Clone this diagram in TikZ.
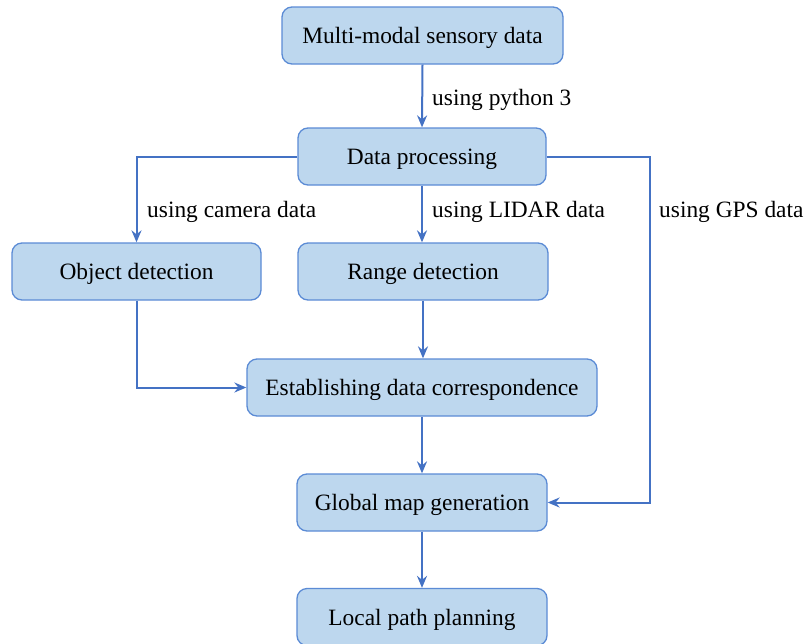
\documentclass[tikz,border=0pt]{standalone}
\usepackage{fontspec}
\setmainfont{Liberation Serif}
\usetikzlibrary{arrows.meta}
\definecolor{boxfill}{HTML}{BDD7EE}
\definecolor{boxline}{HTML}{5B8BD5}
\definecolor{arrowc}{HTML}{4472C4}
\tikzset{
  flowbox/.style={draw=boxline, fill=boxfill, line width=1.3pt, rounded corners=10pt,
    minimum height=57pt, inner sep=0pt, text height=21.5pt, text depth=5pt,
    font=\fontsize{23.4}{28}\selectfont},
  conn/.style={draw=arrowc, line width=2pt, -{Stealth[length=12pt,width=10pt,inset=4pt]}},
  lbl/.style={anchor=west, inner sep=0pt, text height=21.5pt, text depth=5pt,
    font=\fontsize{23.4}{28}\selectfont}
}
\begin{document}
\begin{tikzpicture}[x=1pt,y=-1pt]
\useasboundingbox (0,0) rectangle (806,643);
\node[flowbox, minimum width=281pt] (mm) at (422.5,35.5) {Multi-modal sensory data};
\node[flowbox, minimum width=248pt] (dp) at (422,156.5) {Data processing};
\node[flowbox, minimum width=249pt] (od) at (136.5,271.5) {Object detection};
\node[flowbox, minimum width=250pt] (rd) at (423,271.5) {Range detection};
\node[flowbox, minimum width=350pt] (es) at (422,387.5) {Establishing data correspondence};
\node[flowbox, minimum width=250pt] (gm) at (422,502.5) {Global map generation};
\node[flowbox, minimum width=250pt] (lp) at (422,617) {Local path planning};
\coordinate (gpsc) at (650,156.5);
\node[lbl] (l1) at (432,97) {using python 3};
\node[lbl] (l2) at (147,209) {using camera data};
\node[lbl] (l3) at (432,209) {using LIDAR data};
\node[lbl] (l4) at (659,209) {using GPS data};
\draw[conn] (mm.south) -- (dp.north);
\draw[conn] (dp.west) -| (od.north);
\draw[conn] (dp.south) -- (dp.south |- rd.north);
\draw[conn] (dp.east) -- (gpsc) |- (gm.east);
\draw[conn] (od.south) |- (es.west);
\draw[conn] (rd.south) -- (rd.south |- es.north);
\draw[conn] (es.south) -- (gm.north);
\draw[conn] (gm.south) -- (lp.north);
\end{tikzpicture}
\end{document}
